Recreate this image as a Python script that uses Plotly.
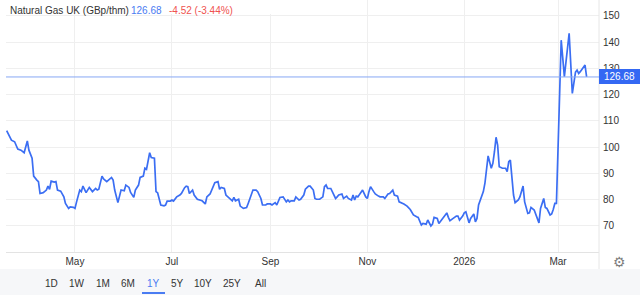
import plotly.graph_objects as go

# ---------------- data ----------------
dates = [
    "2025-03-19", "2025-03-21", "2025-03-22", "2025-03-24", "2025-03-26", "2025-03-28", "2025-03-30",
    "2025-04-01", "2025-04-02", "2025-04-04", "2025-04-05", "2025-04-07", "2025-04-08", "2025-04-09",
    "2025-04-11", "2025-04-13", "2025-04-14", "2025-04-15", "2025-04-16", "2025-04-18", "2025-04-19",
    "2025-04-20", "2025-04-22", "2025-04-24", "2025-04-25", "2025-04-27", "2025-04-28", "2025-04-30",
    "2025-05-01", "2025-05-02", "2025-05-04", "2025-05-05", "2025-05-06", "2025-05-08", "2025-05-09",
    "2025-05-10", "2025-05-12", "2025-05-14", "2025-05-15", "2025-05-16", "2025-05-18", "2025-05-19",
    "2025-05-21", "2025-05-22", "2025-05-24", "2025-05-25", "2025-05-26", "2025-05-28", "2025-05-29",
    "2025-05-30", "2025-06-01", "2025-06-02", "2025-06-04", "2025-06-05", "2025-06-07", "2025-06-08",
    "2025-06-10", "2025-06-11", "2025-06-13", "2025-06-14", "2025-06-15", "2025-06-17", "2025-06-18",
    "2025-06-20", "2025-06-21", "2025-06-22", "2025-06-24", "2025-06-26", "2025-06-27", "2025-06-28",
    "2025-06-30", "2025-07-01", "2025-07-02", "2025-07-04", "2025-07-06", "2025-07-07", "2025-07-09",
    "2025-07-10", "2025-07-11", "2025-07-12", "2025-07-14", "2025-07-15", "2025-07-17", "2025-07-19",
    "2025-07-20", "2025-07-22", "2025-07-23", "2025-07-25", "2025-07-27", "2025-07-28", "2025-07-30",
    "2025-07-31", "2025-08-01", "2025-08-03", "2025-08-04", "2025-08-06", "2025-08-08", "2025-08-09",
    "2025-08-10", "2025-08-12", "2025-08-13", "2025-08-15", "2025-08-17", "2025-08-18", "2025-08-20",
    "2025-08-21", "2025-08-23", "2025-08-24", "2025-08-26", "2025-08-27", "2025-08-29", "2025-08-30",
    "2025-09-01", "2025-09-02", "2025-09-04", "2025-09-05", "2025-09-07", "2025-09-08", "2025-09-09",
    "2025-09-11", "2025-09-12", "2025-09-13", "2025-09-14", "2025-09-16", "2025-09-17", "2025-09-19",
    "2025-09-20", "2025-09-22", "2025-09-23", "2025-09-25", "2025-09-26", "2025-09-28", "2025-09-29",
    "2025-09-30", "2025-10-02", "2025-10-04", "2025-10-05", "2025-10-06", "2025-10-07", "2025-10-09",
    "2025-10-10", "2025-10-12", "2025-10-13", "2025-10-14", "2025-10-16", "2025-10-17", "2025-10-19",
    "2025-10-20", "2025-10-22", "2025-10-23", "2025-10-24", "2025-10-25", "2025-10-26", "2025-10-28",
    "2025-10-29", "2025-10-31", "2025-11-01", "2025-11-02", "2025-11-03", "2025-11-05", "2025-11-06",
    "2025-11-08", "2025-11-09", "2025-11-11", "2025-11-12", "2025-11-14", "2025-11-15", "2025-11-17",
    "2025-11-18", "2025-11-20", "2025-11-21", "2025-11-24", "2025-11-26", "2025-11-28", "2025-11-30",
    "2025-12-02", "2025-12-03", "2025-12-05", "2025-12-06", "2025-12-08", "2025-12-09", "2025-12-11",
    "2025-12-12", "2025-12-13", "2025-12-15", "2025-12-16", "2025-12-18", "2025-12-19", "2025-12-21",
    "2025-12-22", "2025-12-23", "2025-12-25", "2025-12-27", "2025-12-28", "2025-12-29", "2025-12-31",
    "2026-01-01", "2026-01-02", "2026-01-04", "2026-01-05", "2026-01-07", "2026-01-08", "2026-01-09",
    "2026-01-10", "2026-01-12", "2026-01-13", "2026-01-14", "2026-01-15", "2026-01-16", "2026-01-18",
    "2026-01-19", "2026-01-20", "2026-01-21", "2026-01-22", "2026-01-23", "2026-01-25", "2026-01-27",
    "2026-01-28", "2026-01-29", "2026-01-30", "2026-02-01", "2026-02-02", "2026-02-04", "2026-02-05",
    "2026-02-07", "2026-02-08", "2026-02-10", "2026-02-11", "2026-02-12", "2026-02-14", "2026-02-16",
    "2026-02-17", "2026-02-18", "2026-02-20", "2026-02-21", "2026-02-22", "2026-02-24", "2026-02-25",
    "2026-02-26", "2026-02-27", "2026-02-28", "2026-03-03", "2026-03-05", "2026-03-06", "2026-03-08",
    "2026-03-10", "2026-03-12", "2026-03-13", "2026-03-14", "2026-03-15", "2026-03-17", "2026-03-18",
    "2026-03-19",
]
prices = [
    106.2, 103.9, 102.6, 102.0, 99.2, 98.8, 97.8,
    102.3, 98.8, 95.7, 88.9, 87.4, 86.8, 82.3,
    82.6, 83.6, 85.1, 83.9, 87.0, 86.6, 86.8,
    83.6, 83.2, 81.0, 78.5, 76.6, 77.2, 77.0,
    76.6, 79.1, 83.6, 83.0, 85.1, 82.6, 83.9,
    84.6, 83.0, 84.2, 83.6, 83.9, 88.9, 87.8,
    86.8, 87.4, 88.4, 87.4, 83.6, 78.8, 81.0,
    83.6, 83.3, 85.5, 84.6, 82.7, 80.8, 83.6,
    85.5, 88.4, 88.9, 91.9, 91.5, 97.8, 96.0,
    95.7, 83.0, 82.6, 77.9, 77.6, 77.9, 79.4,
    79.4, 79.8, 79.4, 81.0, 81.7, 82.3, 84.5,
    85.1, 84.9, 82.3, 83.6, 81.7, 80.1, 79.8,
    79.5, 78.3, 81.0, 82.1, 85.5, 86.4, 86.8,
    83.9, 84.6, 84.2, 81.7, 80.4, 79.5, 80.8,
    79.5, 80.1, 77.5, 76.6, 76.9, 78.5, 82.3,
    83.6, 83.6, 83.0, 80.4, 77.9, 77.9, 78.3,
    78.3, 77.9, 78.8, 77.9, 80.8, 80.8, 81.0,
    79.1, 79.8, 79.1, 79.5, 79.5, 81.0, 79.8,
    80.1, 81.7, 83.9, 85.1, 85.1, 83.6, 80.4,
    80.1, 80.1, 81.0, 84.9, 85.5, 84.2, 84.2,
    83.0, 80.4, 81.0, 81.7, 82.1, 80.4, 81.3,
    80.4, 79.8, 81.7, 79.8, 81.3, 81.0, 83.0,
    83.6, 81.0, 80.4, 83.0, 84.9, 83.0, 82.1,
    81.3, 81.0, 81.0, 80.4, 82.1, 82.3, 83.6,
    81.7, 81.3, 79.1, 78.3, 77.5, 76.2, 74.1,
    73.4, 73.2, 70.3, 70.9, 70.6, 72.2, 69.9,
    70.6, 73.2, 72.8, 70.9, 72.4, 73.4, 74.9,
    73.2, 71.9, 72.8, 73.7, 73.7, 72.2, 73.7,
    74.9, 75.3, 71.1, 72.8, 74.5, 71.5, 72.8,
    77.9, 81.0, 83.0, 86.2, 91.2, 96.6, 91.9,
    93.8, 98.2, 103.7, 100.7, 92.5, 91.9, 91.9,
    90.6, 94.4, 95.0, 81.7, 78.8, 79.8, 81.0,
    85.1, 79.1, 74.7, 74.9, 77.0, 76.0, 72.2,
    71.1, 76.6, 80.4, 77.0, 76.6, 74.1, 74.5,
    76.2, 78.5, 78.5, 140.7, 126.8, 132.5, 143.3,
    120.4, 128.5, 129.3, 128.0, 128.7, 130.6, 131.2,
    126.68,
]
title_text = "Natural Gas UK (GBp/thm)"
last_price = 126.68
change = -4.52
change_pct = -3.44
y_ticks = [70, 80, 90, 100, 110, 120, 130, 140, 150]
x_tick_dates = ["2025-05-01", "2025-07-01", "2025-09-01", "2025-11-01", "2026-01-01", "2026-03-01"]
x_tick_labels = ["May", "Jul", "Sep", "Nov", "2026", "Mar"]
range_buttons = ["1D", "1W", "1M", "6M", "1Y", "5Y", "10Y", "25Y", "All"]
active_button = "1Y"

# ---------------- layout helpers ----------------
W, H = 640, 295
L, R, T, B = 6, 41, 0, 43
PW = W - L - R
PH = H - T - B


def px(x):
    return (x - L) / PW


def py(y):
    return (T + PH - y) / PH


FONT = "Liberation Sans, Arial, Helvetica, sans-serif"
TXT = "#333333"
BLUE = "#3b6ef3"
GRID = "#efefef"

fig = go.Figure()
fig.add_trace(go.Scatter(
    x=dates, y=prices, mode="lines",
    line=dict(color=BLUE, width=1.7),
    hoverinfo="skip", showlegend=False,
))

shapes = [
    # white header background hiding gridlines
    dict(type="rect", xref="paper", yref="paper", x0=px(0), x1=px(275), y0=py(14), y1=py(0),
         fillcolor="white", line=dict(width=0), layer="above"),
    # bottom button bar
    dict(type="rect", xref="paper", yref="paper", x0=px(0), x1=px(W), y0=py(H), y1=py(269),
         fillcolor="#f6f7f9", line=dict(width=0), layer="below"),
    # right separator
    dict(type="line", xref="paper", yref="paper", x0=1, x1=1, y0=py(269), y1=py(0),
         line=dict(color="#e6e6e6", width=1)),
    # last price line
    dict(type="line", xref="paper", yref="y", x0=0, x1=1, y0=last_price, y1=last_price,
         line=dict(color="#86a7f5", width=1)),
]

annotations = [
    dict(xref="paper", yref="paper", x=px(8), y=py(10.5), xanchor="left", yanchor="middle",
         text=title_text, showarrow=False, font=dict(family=FONT, size=10, color=TXT)),
    dict(xref="paper", yref="paper", x=px(129), y=py(10.5), xanchor="left", yanchor="middle",
         text=f"{last_price:.2f}", showarrow=False, font=dict(family=FONT, size=10, color="#4a7cf2")),
    dict(xref="paper", yref="paper", x=px(167), y=py(10.5), xanchor="left", yanchor="middle",
         text=f"{change:+.2f} ({change_pct:+.2f}%)", showarrow=False,
         font=dict(family=FONT, size=10, color="#ef5350")),
    dict(xref="paper", yref="y", x=1, y=last_price, xanchor="left", yanchor="middle",
         text=f"{last_price:.2f}", showarrow=False, bgcolor="#3468f3",
         width=41, height=15, borderpad=0, borderwidth=0, align="center",
         font=dict(family=FONT, size=10, color="white")),
    dict(xref="paper", yref="paper", x=px(619), y=py(262), xanchor="center", yanchor="middle",
         text="\u2699", showarrow=False, font=dict(family="DejaVu Sans", size=14, color="#7f7f7f")),
]

btn_x = [51, 77, 103, 128, 153, 177, 203, 232, 260]
for label, bx in zip(range_buttons, btn_x):
    active = label == active_button
    annotations.append(dict(
        xref="paper", yref="paper", x=px(bx), y=py(283), xanchor="center", yanchor="middle",
        text=label, showarrow=False,
        font=dict(family=FONT, size=10, color="#4a7cf2" if active else TXT)))
    if active:
        shapes.append(dict(type="line", xref="paper", yref="paper", x0=px(bx - 11), x1=px(bx + 12),
                           y0=py(293), y1=py(293), line=dict(color="#4a7cf2", width=2)))

fig.update_layout(
    width=W, height=H,
    margin=dict(l=L, r=R, t=T, b=B, pad=0),
    paper_bgcolor="white", plot_bgcolor="white",
    font=dict(family=FONT, size=10, color=TXT),
    showlegend=False,
    shapes=shapes,
    annotations=annotations,
    xaxis=dict(
        type="date",
        range=["2025-03-18 14:00", "2026-03-26 19:00"],
        tickvals=x_tick_dates, ticktext=x_tick_labels,
        showgrid=True, gridcolor=GRID, gridwidth=1,
        showline=True, linecolor="#e3e3e3", linewidth=1,
        ticks="", zeroline=False, fixedrange=True,
        tickfont=dict(family=FONT, size=10, color=TXT),
    ),
    yaxis=dict(
        side="right",
        range=[60, 156],
        tickvals=y_ticks,
        showgrid=True, gridcolor=GRID, gridwidth=1,
        showline=False, ticks="", zeroline=False, fixedrange=True,
        ticklabelstandoff=3,
        tickfont=dict(family=FONT, size=10, color=TXT),
    ),
)

fig.write_html("out.html", config={"displayModeBar": False})
